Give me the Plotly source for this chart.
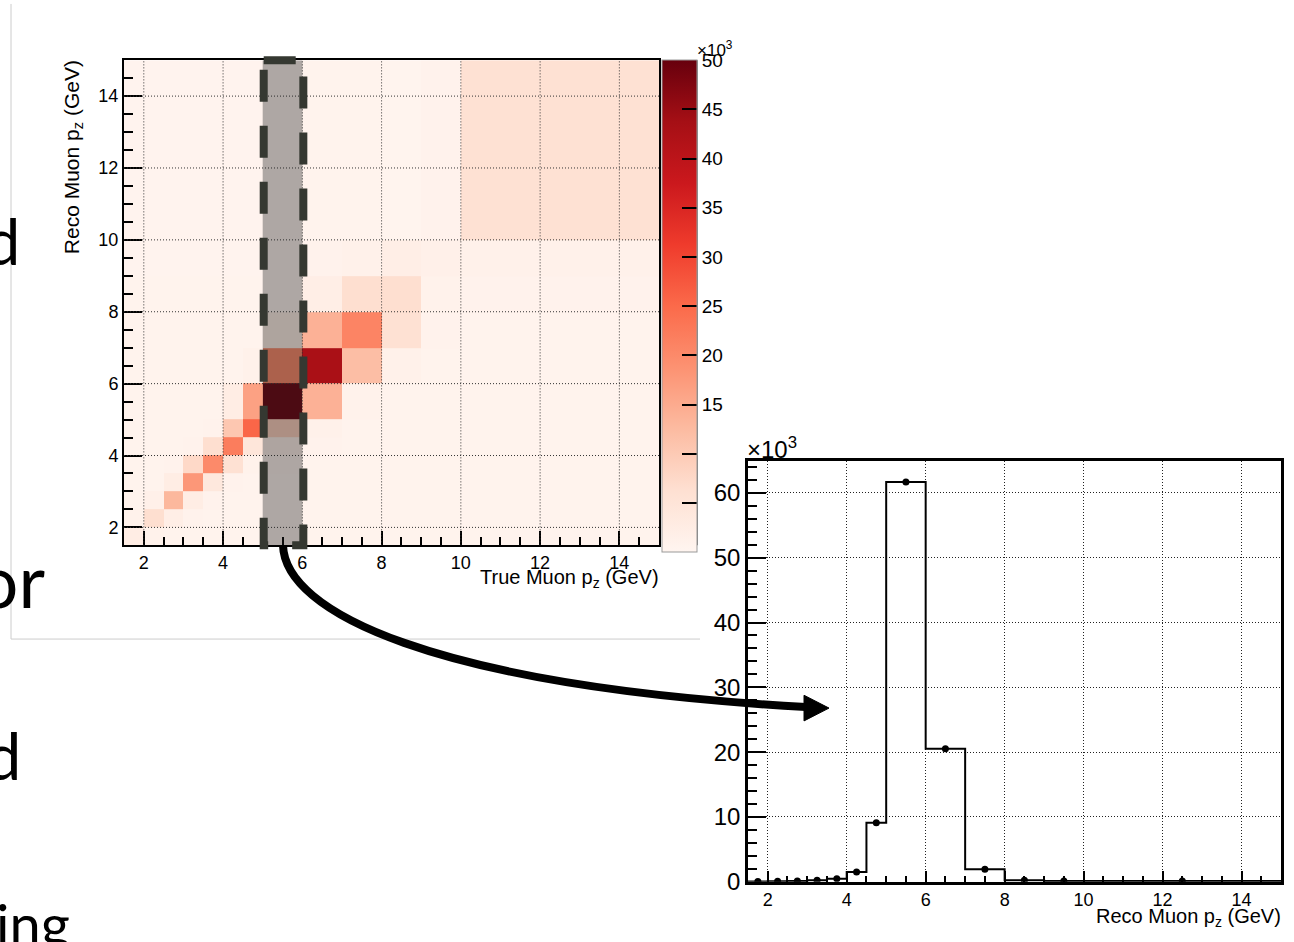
import plotly.graph_objects as go

# ---------------- data ----------------
pz_bin_edges = [1.5, 2.0, 2.5, 3.0, 3.5, 4.0, 4.5, 5.0, 6.0, 7.0, 8.0, 9.0, 10.0, 15.0]
axis_ticks = [2, 4, 6, 8, 10, 12, 14]
colorbar_ticks = [5, 10, 15, 20, 25, 30, 35, 40, 45, 50]
colorbar_ticktext = ["", "", "15", "20", "25", "30", "35", "40", "45", "50"]
hist_yticks = [0, 10, 20, 30, 40, 50, 60]
selected_true_bin = 7  # true p_z 5-6 GeV slice

# Response matrix in units of 10^3 events: rows = reco bins, columns = true bins
response_k = [
    [2.5, 1.0, 0.6, 0.6, 0.6, 0.6, 0.6, 0.02, 0.6, 0.6, 0.6, 0.6, 0.6],
    [1.0, 6.5, 2.0, 0.8, 0.6, 0.6, 0.6, 0.05, 0.6, 0.6, 0.6, 0.6, 0.6],
    [0.6, 1.5, 13.0, 2.5, 0.8, 0.6, 0.6, 0.10, 0.6, 0.6, 0.6, 0.6, 0.6],
    [0.6, 0.6, 2.5, 18.0, 4.0, 0.8, 0.6, 0.20, 0.6, 0.6, 0.6, 0.6, 0.6],
    [0.6, 0.6, 0.8, 7.5, 20.0, 6.0, 1.0, 0.45, 0.6, 0.6, 0.6, 0.6, 0.6],
    [0.6, 0.6, 0.6, 0.8, 6.5, 22.0, 4.5, 1.5, 0.8, 0.6, 0.6, 0.6, 0.6],
    [0.6, 0.6, 0.6, 0.6, 0.8, 10.5, 25.5, 9.1, 1.2, 0.7, 0.6, 0.6, 0.6],
    [0.6, 0.6, 0.6, 0.6, 0.6, 2.5, 16.5, 61.7, 14.0, 1.0, 0.7, 0.6, 0.6],
    [0.6, 0.6, 0.6, 0.6, 0.6, 0.6, 1.2, 20.5, 43.0, 12.0, 1.2, 0.7, 0.6],
    [0.6, 0.6, 0.6, 0.6, 0.6, 0.6, 0.6, 1.9, 14.0, 21.0, 6.0, 0.8, 0.7],
    [0.6, 0.6, 0.6, 0.6, 0.6, 0.6, 0.6, 0.20, 2.0, 6.5, 6.5, 1.0, 0.8],
    [0.5, 0.5, 0.5, 0.5, 0.5, 0.5, 0.5, 0.10, 0.8, 1.2, 2.0, 1.5, 1.2],
    [0.5, 0.5, 0.5, 0.5, 0.5, 0.5, 0.5, 0.10, 0.6, 0.6, 0.4, 0.8, 6.0],
]

# projection of the selected true-p_z column onto reco p_z (10^3 events)
reco_counts_k = [row[selected_true_bin] for row in response_k]

# ---------------- layout helpers (page pixels -> paper) ----------------
W, H = 1294, 942


def PX(x):
    return x / W


def PY(y):
    return 1 - y / H


HM_L, HM_R, HM_T, HM_B = 124, 659, 61, 553
HI_L, HI_R, HI_T, HI_B = 748, 1281, 467, 894
XMIN, XMAX = pz_bin_edges[0], pz_bin_edges[-1]


def hm_x(v):
    return HM_L + (v - XMIN) / (XMAX - XMIN) * (HM_R - HM_L)


FONT = "Liberation Sans, Arial, Helvetica, sans-serif"
SLIDE_FONT = "Lato, Open Sans, sans-serif"

reds = [
    [0.0, "#fff5f0"], [0.125, "#fee0d2"], [0.25, "#fcbba1"], [0.375, "#fc9272"],
    [0.5, "#fb6a4a"], [0.625, "#ef3b2c"], [0.75, "#cb181d"], [0.875, "#a50f15"],
    [1.0, "#67000d"],
]

fig = go.Figure()

fig.add_trace(go.Heatmap(
    x=pz_bin_edges, y=pz_bin_edges, z=response_k,
    zmin=0, zmax=50, colorscale=reds, xaxis="x", yaxis="y",
    hoverinfo="skip",
    colorbar=dict(
        x=PX(662), xanchor="left", xpad=0, ypad=0,
        y=PY(HM_T), yanchor="top", lenmode="pixels", len=HM_B - HM_T,
        thickness=35, outlinewidth=1, outlinecolor="#999999",
        tickvals=colorbar_ticks, ticktext=colorbar_ticktext,
        ticks="inside", ticklen=15, tickwidth=2, tickcolor="black",
        tickfont=dict(family=FONT, size=19, color="black"),
    ),
))

# histogram outline (step) built from the bin edges and contents
step_x = [pz_bin_edges[0]] + pz_bin_edges[:-1] + [pz_bin_edges[-1], pz_bin_edges[-1]]
step_y = [0] + reco_counts_k + [reco_counts_k[-1], 0]
bin_centers = [(a + b) / 2 for a, b in zip(pz_bin_edges[:-1], pz_bin_edges[1:])]

fig.add_trace(go.Scatter(
    x=step_x, y=step_y, mode="lines", line=dict(shape="hv", color="black", width=2),
    xaxis="x2", yaxis="y2", hoverinfo="skip", showlegend=False,
))
fig.add_trace(go.Scatter(
    x=bin_centers, y=reco_counts_k, mode="markers",
    marker=dict(color="black", size=7), xaxis="x2", yaxis="y2", showlegend=False,
))

common_axis = dict(
    showline=True, linecolor="black", mirror=True, zeroline=False,
    ticks="inside", tickcolor="black", tickwidth=2,
    tickfont=dict(family=FONT, size=18, color="black"),
)

grid_dash = "1px,2px"

fig.update_layout(
    width=W, height=H, margin=dict(l=0, r=0, t=0, b=0),
    paper_bgcolor="white", plot_bgcolor="rgba(0,0,0,0)", showlegend=False,
    font=dict(family=FONT, color="black"),
    xaxis=dict(common_axis, domain=[PX(HM_L), PX(HM_R)], range=[XMIN, XMAX], anchor="y",
               tickvals=axis_ticks, ticklen=14, linewidth=2, showgrid=False,
               minor=dict(ticks="inside", ticklen=8, tickwidth=2, tickcolor="black",
                          dtick=0.5, tick0=0, showgrid=False)),
    yaxis=dict(common_axis, domain=[PY(HM_B), PY(HM_T)], range=[XMIN, XMAX], anchor="x",
               tickvals=axis_ticks, ticklen=18, linewidth=2, showgrid=False,
               minor=dict(ticks="inside", ticklen=9, tickwidth=2, tickcolor="black",
                          dtick=0.5, tick0=0, showgrid=False)),
    xaxis2=dict(common_axis, domain=[PX(HI_L), PX(HI_R)], range=[XMIN, XMAX], anchor="y2",
                tickvals=axis_ticks, ticklen=11, linewidth=2.5,
                showgrid=True, gridcolor="#222222", gridwidth=1, griddash=grid_dash,
                minor=dict(ticks="inside", ticklen=6, tickwidth=2, tickcolor="black",
                           dtick=0.5, tick0=0, showgrid=False)),
    yaxis2=dict(common_axis, domain=[PY(HI_B), PY(HI_T)], range=[0, 65], anchor="x2",
                tickvals=hist_yticks, ticklen=18, linewidth=2.5,
                tickfont=dict(family=FONT, size=24, color="black"),
                showgrid=True, gridcolor="#222222", gridwidth=1, griddash=grid_dash,
                minor=dict(ticks="inside", ticklen=9, tickwidth=2, tickcolor="black",
                           dtick=2, tick0=0, showgrid=False)),
)

shapes = []
# dotted grid drawn above the heatmap cells
for t in axis_ticks:
    shapes.append(dict(type="line", xref="x", yref="y", x0=t, x1=t, y0=XMIN, y1=XMAX,
                       line=dict(color="#333333", width=1, dash=grid_dash), layer="above"))
    shapes.append(dict(type="line", xref="x", yref="y", x0=XMIN, x1=XMAX, y0=t, y1=t,
                       line=dict(color="#333333", width=1, dash=grid_dash), layer="above"))

# selected slice band
band_lo = pz_bin_edges[selected_true_bin]
band_hi = pz_bin_edges[selected_true_bin + 1]
shapes.append(dict(type="rect", xref="x", yref="y", x0=band_lo, x1=band_hi, y0=XMIN, y1=XMAX,
                   fillcolor="rgba(30,30,30,0.36)", line=dict(width=0), layer="above"))
bx0, bx1 = PX(hm_x(band_lo) + 1), PX(hm_x(band_hi) + 1)
by0, by1 = PY(HM_T), PY(HM_B)
shapes.append(dict(type="path", xref="paper", yref="paper",
                   path=f"M {bx0},{by0} L {bx1},{by0} L {bx1},{by1} L {bx0},{by1} Z",
                   line=dict(color="#353831", width=8, dash="32px,24px"), layer="above"))

# curved arrow from the band to the projection
p0, p1, p2, p3 = (283, 553), (285, 620), (430, 695), (806, 717)
arrow_path = "M {},{} C {},{} {},{} {},{}".format(
    PX(p0[0]), PY(p0[1]), PX(p1[0]), PY(p1[1]), PX(p2[0]), PY(p2[1]), PX(p3[0]), PY(p3[1]))
shapes.append(dict(type="path", xref="paper", yref="paper", path=arrow_path,
                   line=dict(color="black", width=8), layer="above"))
head = "M {},{} L {},{} L {},{} Z".format(PX(804), PY(705), PX(829), PY(718), PX(804), PY(731))
shapes.append(dict(type="path", xref="paper", yref="paper", path=head,
                   fillcolor="black", line=dict(color="black", width=1), layer="above"))

# colorbar axis line (right edge)
shapes.append(dict(type="line", xref="paper", yref="paper", x0=PX(696.5), x1=PX(696.5),
                   y0=PY(HM_T), y1=PY(HM_B), line=dict(color="black", width=2)))

# slide frame lines (light gray)
shapes.append(dict(type="line", xref="paper", yref="paper", x0=PX(11), x1=PX(11),
                   y0=PY(4), y1=PY(648), line=dict(color="#cccccc", width=1), layer="below"))
shapes.append(dict(type="line", xref="paper", yref="paper", x0=PX(11), x1=PX(700),
                   y0=PY(648), y1=PY(648), line=dict(color="#cccccc", width=1), layer="below"))

fig.update_layout(shapes=shapes)

ann = []
ann.append(dict(text="Reco Muon p<sub>z</sub> (GeV)", textangle=-90, xref="paper", yref="paper",
                x=PX(73), y=PY(HM_T - 2), xanchor="center", yanchor="top", showarrow=False,
                font=dict(family=FONT, size=21, color="black")))
ann.append(dict(text="True Muon p<sub>z</sub> (GeV)", xref="paper", yref="paper",
                x=PX(HM_R + 2), y=PY(587), xanchor="right", yanchor="middle", showarrow=False,
                font=dict(family=FONT, size=20, color="black")))
ann.append(dict(text="Reco Muon p<sub>z</sub> (GeV)", xref="paper", yref="paper",
                x=PX(HI_R + 2), y=PY(930), xanchor="right", yanchor="middle", showarrow=False,
                font=dict(family=FONT, size=20, color="black")))
ann.append(dict(text="×10<sup>3</sup>", xref="paper", yref="paper",
                x=PX(695), y=PY(50), xanchor="left", yanchor="middle", showarrow=False,
                font=dict(family=FONT, size=17, color="black")))
ann.append(dict(text="×10<sup>3</sup>", xref="paper", yref="paper",
                x=PX(745), y=PY(454), xanchor="left", yanchor="middle", showarrow=False,
                font=dict(family=FONT, size=24, color="black")))

# fragments of slide text at the left edge
for txt, xr, yc, size in [("d", 22, 244, 63), ("or", 47, 588, 73), ("d", 23, 766, 65), ("ing", 72, 936, 56)]:
    ann.append(dict(text=txt, xref="paper", yref="paper", x=PX(xr), y=PY(yc),
                    xanchor="right", yanchor="middle", showarrow=False,
                    font=dict(family=SLIDE_FONT, size=size, color="black")))

fig.update_layout(annotations=ann)

fig.write_html(
    "out.html",
    config={"displayModeBar": False},
    post_script="document.body.style.margin='0';document.documentElement.style.overflow='hidden';",
)
